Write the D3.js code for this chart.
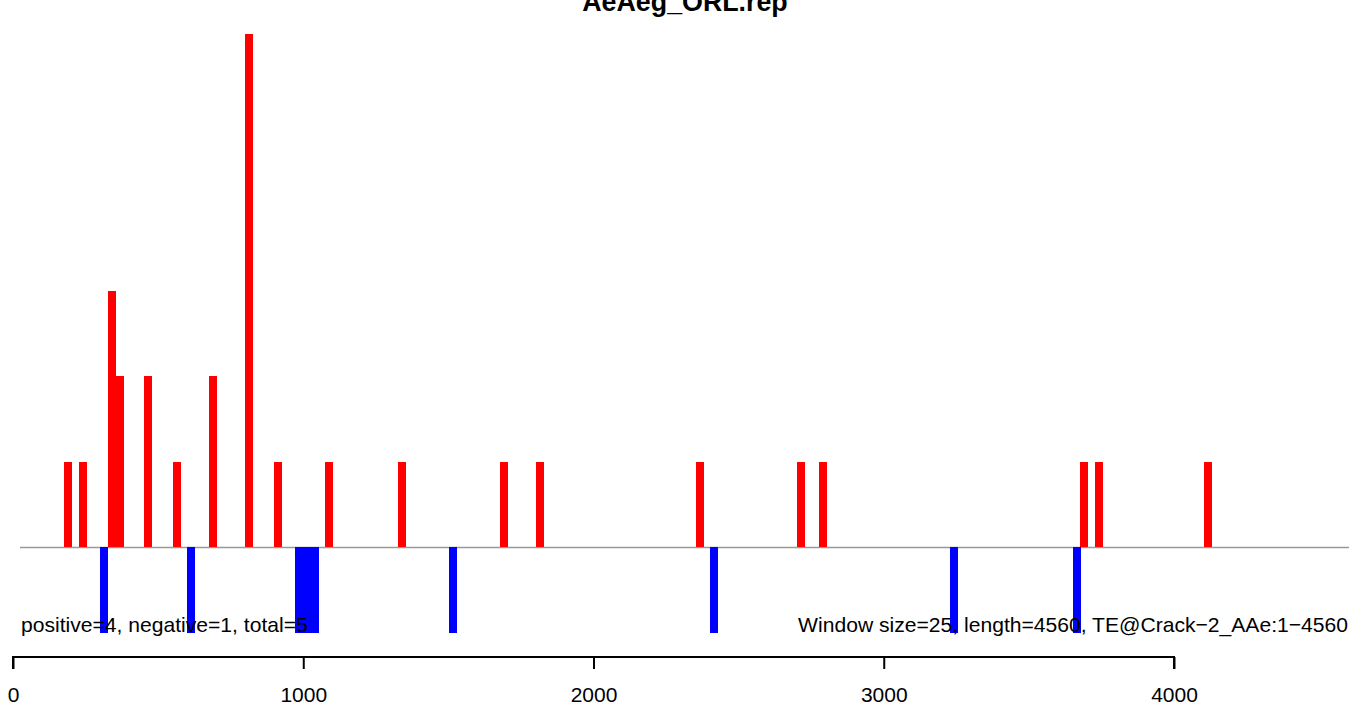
<!DOCTYPE html>
<html>
<head>
<meta charset="utf-8">
<script src="https://cdn.jsdelivr.net/npm/d3@7"></script>
<style>
html,body{margin:0;padding:0;background:#fff;}
svg{display:block;}
text{font-family:"Liberation Sans",Arial,Helvetica,sans-serif;}
</style>
</head>
<body>
<script>
// Data (positions along the sequence, counts per window)
const positivePos = [189, 241, 341, 367, 465, 565, 689, 813, 913, 1089, 1340, 1691, 1815, 2367, 2714, 2790, 3689, 3741, 4118];
const positiveVal = [1, 1, 3, 2, 2, 1, 2, 6, 1, 1, 1, 1, 1, 1, 1, 1, 1, 1, 1];
const negativePos = [313, 613, 986, 1012, 1039, 1516, 2415, 3241, 3665];
const negativeVal = [-1, -1, -1, -1, -1, -1, -1, -1, -1];
const xTicks = [0, 1000, 2000, 3000, 4000];
const titleText = "AeAeg_ORL.rep";
const leftNote = "positive=4, negative=1, total=5";
const rightNote = "Window size=25, length=4560, TE@Crack\u22122_AAe:1\u22124560";

const W = 1372, H = 707;
const svg = d3.select("body").append("svg").attr("width", W).attr("height", H);

const x = d3.scaleLinear().domain([0, 4000]).range([13, 1174]);
const y = d3.scaleLinear().domain([-1, 6]).range([633, 34]);
const barW = 8;

// title
svg.append("text").attr("x", 685).attr("y", 11)
  .attr("text-anchor", "middle").attr("font-weight", "bold")
  .attr("font-size", 26.8).attr("fill", "#000").text(titleText);

// baseline
svg.append("line").attr("x1", 20).attr("x2", 1349)
  .attr("y1", y(0)).attr("y2", y(0))
  .attr("stroke", "#999").attr("stroke-width", 1.5);

// positive bars
const pos = positivePos.map((p, i) => ({p, v: positiveVal[i]}));
svg.append("g").attr("shape-rendering", "crispEdges")
  .selectAll("rect").data(pos).join("rect")
  .attr("x", d => x(d.p) - barW / 2)
  .attr("width", barW)
  .attr("y", d => y(d.v))
  .attr("height", d => y(0) - y(d.v))
  .attr("fill", "#ff0000");

// negative bars
const neg = negativePos.map((p, i) => ({p, v: negativeVal[i]}));
svg.append("g").attr("shape-rendering", "crispEdges")
  .selectAll("rect").data(neg).join("rect")
  .attr("x", d => x(d.p) - barW / 2)
  .attr("width", barW)
  .attr("y", y(0))
  .attr("height", d => y(d.v) - y(0))
  .attr("fill", "#0000ff");

// notes (drawn on top of the bars, as in the reference)
svg.append("text").attr("x", 21).attr("y", 632).attr("font-size", 21.1)
  .attr("fill", "#000").text(leftNote);
svg.append("text").attr("x", 1348).attr("y", 632).attr("font-size", 21.1)
  .attr("text-anchor", "end").attr("fill", "#000").text(rightNote);

// x axis
const axis = d3.axisBottom(x).tickValues(xTicks).tickSize(12).tickPadding(18)
  .tickFormat(d3.format("d"));
const gx = svg.append("g").attr("transform", "translate(0,657)").call(axis);
gx.select(".domain").attr("stroke", "#000").attr("stroke-width", 2)
  .attr("d", `M${x(0)},12V0H${x(4000)}V12`);
gx.selectAll(".tick line").attr("stroke", "#000").attr("stroke-width", 2);
gx.selectAll(".tick text").attr("font-size", 21)
  .attr("font-family", "Liberation Sans, Arial, sans-serif").attr("fill", "#000");
</script>
</body>
</html>
